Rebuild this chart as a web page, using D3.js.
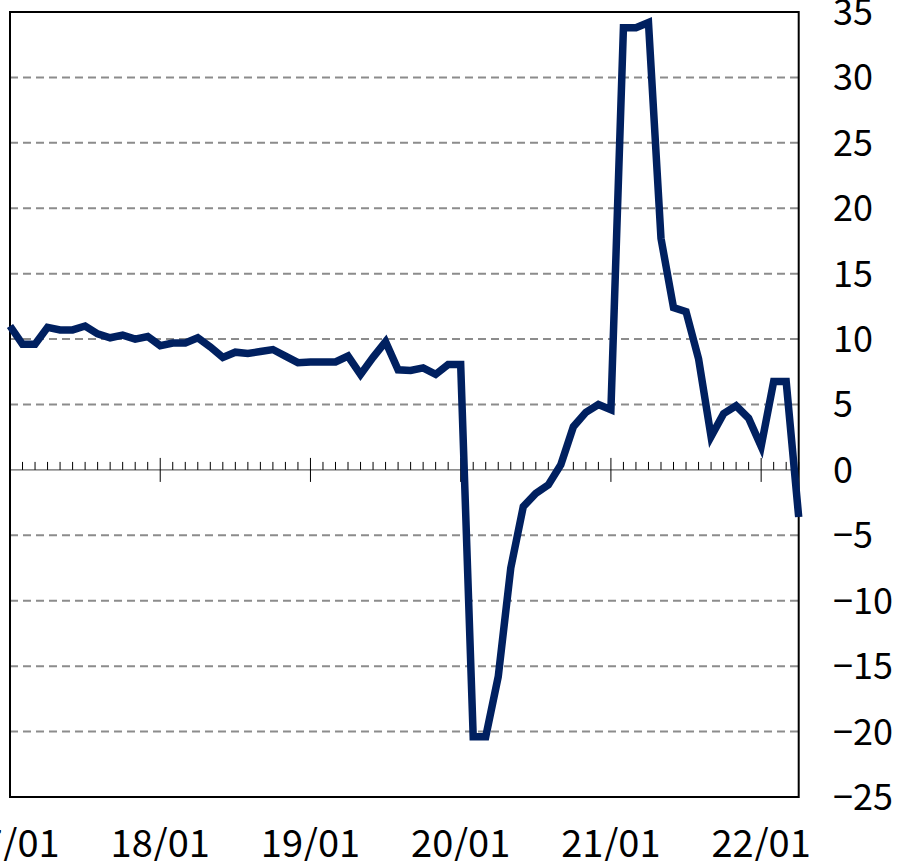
<!DOCTYPE html>
<html>
<head>
<meta charset="utf-8">
<script src="https://cdn.jsdelivr.net/npm/d3@7"></script>
<style>
  body { margin: 0; background: #fff; }
  svg { display: block; }
  text { font-family: "Noto Sans CJK JP", "Noto Sans", sans-serif; fill: #000; }
</style>
</head>
<body>
<div class="canvas"></div>
<script>
// months 17/01 .. 22/04
const months = d3.timeMonth.range(new Date(2017, 0, 1), new Date(2022, 4, 1))
    .map(d => d3.timeFormat('%y/%m')(d));

const values = [
    11.0, 9.6, 9.6, 10.9, 10.7, 10.7, 11.0, 10.4, 10.1, 10.3, 10.0, 10.2,
    9.5, 9.7, 9.7, 10.1, 9.4, 8.6, 9.0, 8.9, 9.05, 9.2, 8.7, 8.2,
    8.25, 8.25, 8.25, 8.7, 7.3, 8.6, 9.8, 7.65, 7.6, 7.8, 7.3, 8.05,
    8.05, -20.4, -20.4, -15.8, -7.5, -2.8, -1.8, -1.15, 0.4, 3.3, 4.4, 5.0,
    4.6, 33.8, 33.8, 34.2, 17.7, 12.4, 12.1, 8.5, 2.55, 4.3, 4.9, 3.95,
    1.8, 6.75, 6.75, -3.6
];

const yTicks = [-25, -20, -15, -10, -5, 0, 5, 10, 15, 20, 25, 30, 35];
const xLabels = ['17/01', '18/01', '19/01', '20/01', '21/01', '22/01'];

const W = 899, H = 861;
const plotL = 10, plotR = 798.7, plotT = 12, plotB = 797;

const svg = d3.select('.canvas').append('svg')
    .attr('width', W)
    .attr('height', H);

const x = d3.scalePoint().domain(months).range([plotL, plotR]);
const y = d3.scaleLinear().domain([-25, 35]).range([plotB, plotT]);

// dashed grid
svg.append('g')
    .selectAll('line')
    .data(yTicks.filter(v => v !== 0 && v !== 35 && v !== -25))
    .join('line')
    .attr('x1', plotL).attr('x2', plotR)
    .attr('y1', d => y(d)).attr('y2', d => y(d))
    .attr('stroke', '#8c8c8c')
    .attr('stroke-width', 2)
    .attr('stroke-dasharray', '8,5');

// zero line with month ticks
const zero = svg.append('g');
zero.append('line')
    .attr('x1', plotL).attr('x2', plotR)
    .attr('y1', y(0)).attr('y2', y(0))
    .attr('stroke', '#404040')
    .attr('stroke-width', 1);
zero.selectAll('.minor')
    .data(months.filter(m => !m.endsWith('/01')))
    .join('line')
    .attr('class', 'minor')
    .attr('x1', d => x(d)).attr('x2', d => x(d))
    .attr('y1', y(0) - 8).attr('y2', y(0))
    .attr('stroke', '#000')
    .attr('stroke-width', 1);
zero.selectAll('.major')
    .data(xLabels)
    .join('line')
    .attr('class', 'major')
    .attr('x1', d => x(d)).attr('x2', d => x(d))
    .attr('y1', y(0) - 12).attr('y2', y(0) + 12)
    .attr('stroke', '#000')
    .attr('stroke-width', 1);

// frame
svg.append('rect')
    .attr('x', plotL).attr('y', plotT)
    .attr('width', plotR - plotL).attr('height', plotB - plotT)
    .attr('fill', 'none')
    .attr('stroke', '#000')
    .attr('stroke-width', 2);

// the series
const line = d3.line()
    .x((d, i) => x(months[i]))
    .y(d => y(d));

svg.append('path')
    .datum(values)
    .attr('d', line)
    .attr('fill', 'none')
    .attr('stroke', '#002060')
    .attr('stroke-width', 7.5);

// y labels on the right
svg.append('g')
    .selectAll('text')
    .data(yTicks)
    .join('text')
    .attr('x', 833)
    .attr('y', d => y(d))
    .attr('dy', '0.36em')
    .style('font-size', '36px')
    .text(d => d < 0 ? '\u2212' + Math.abs(d) : d);

// x labels
svg.append('g')
    .selectAll('text')
    .data(xLabels)
    .join('text')
    .attr('x', d => x(d))
    .attr('y', 857)
    .attr('text-anchor', 'middle')
    .style('font-size', '38px')
    .text(d => d);
</script>
</body>
</html>
